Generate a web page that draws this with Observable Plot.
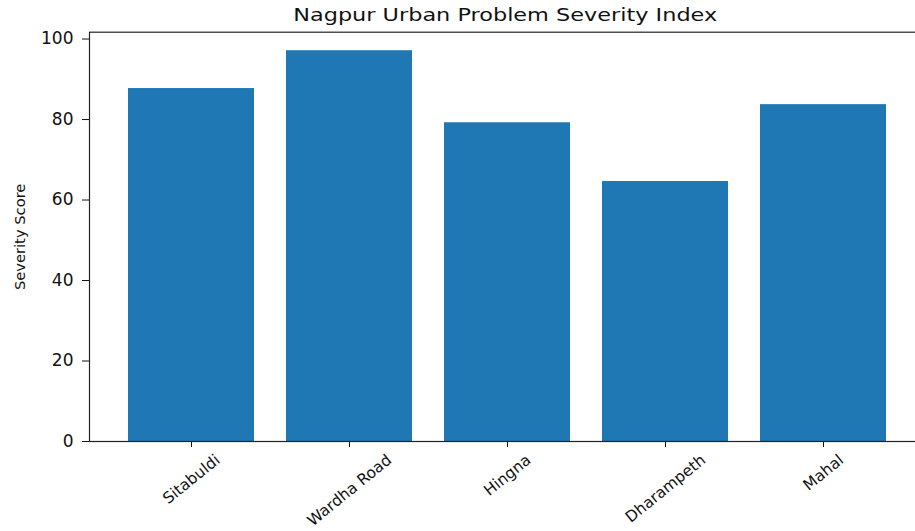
<!DOCTYPE html>
<html>
<head>
<meta charset="utf-8">
<script src="https://cdn.jsdelivr.net/npm/d3@7"></script>
<script src="https://cdn.jsdelivr.net/npm/@observablehq/plot@0.6"></script>
<style>
  body { margin: 0; background: #fff; width: 915px; height: 531px; overflow: hidden; }
  #title { height: 24px; width: 915px; box-sizing: border-box; padding-left: 96px; text-align: center;
           font-family: "DejaVu Sans", sans-serif; font-size: 18.5px; line-height: 24px; color: #111; white-space: nowrap; }
  #title span { display: inline-block; position: relative; top: 3px; transform: scaleX(1.21); transform-origin: center; }
  #chart svg { display: block; }
</style>
</head>
<body>
<div id="title"><span>Nagpur Urban Problem Severity Index</span></div>
<div id="chart"></div>
<script>
const districts = ["Sitabuldi", "Wardha Road", "Hingna", "Dharampeth", "Mahal"];
const severity = [87.7, 97.1, 79.2, 64.6, 83.7];
const yTicks = [0, 20, 40, 60, 80, 100];
const yDomain = [0, 101.7];
const yLabel = "Severity Score";

const data = districts.map((d, i) => ({district: d, score: severity[i]}));

const FONT = "DejaVu Sans";
const xFont = 15.5;
const angle = 39;
const canvas = document.createElement("canvas");
const ctx = canvas.getContext("2d");
ctx.font = `${xFont}px "${FONT}"`;
const rad = angle * Math.PI / 180;
const xLabelMarks = districts.map(name => {
  const w = ctx.measureText(name).width;
  const h = xFont * 0.75;
  const dy = 12 + (w * Math.sin(rad) + h * Math.cos(rad)) / 2;
  return Plot.text([name], {
    x: d => d, frameAnchor: "bottom", dy, rotate: -angle,
    textAnchor: "middle", lineAnchor: "middle",
    fontSize: xFont, fontFamily: FONT, fill: "#111"
  });
});

const chart = Plot.plot({
  width: 915,
  height: 507,
  marginLeft: 89,
  marginRight: -10.9,
  marginTop: 7.7,
  marginBottom: 90,
  style: {fontFamily: FONT, background: "white", color: "#111"},
  x: {domain: districts, paddingInner: 0.2, paddingOuter: 0.24, axis: null},
  y: {domain: yDomain, axis: null},
  marks: [
    Plot.barY(data, {x: "district", y: "score", fill: "#1f77b4"}),
    Plot.axisY({ticks: yTicks, tickSize: 7, tickPadding: 9, fontSize: 17, label: null, stroke: "#111"}),
    Plot.axisX({tickSize: 6, tickFormat: () => "", label: null, stroke: "#111"}),
    ...xLabelMarks,
    Plot.text([yLabel], {frameAnchor: "left", dx: -69, rotate: -90, textAnchor: "middle", lineAnchor: "middle",
      fontSize: 14.7, fontFamily: FONT, fill: "#111"}),
    Plot.frame({stroke: "#222", strokeWidth: 1.2})
  ]
});
document.getElementById("chart").appendChild(chart);
</script>
</body>
</html>
